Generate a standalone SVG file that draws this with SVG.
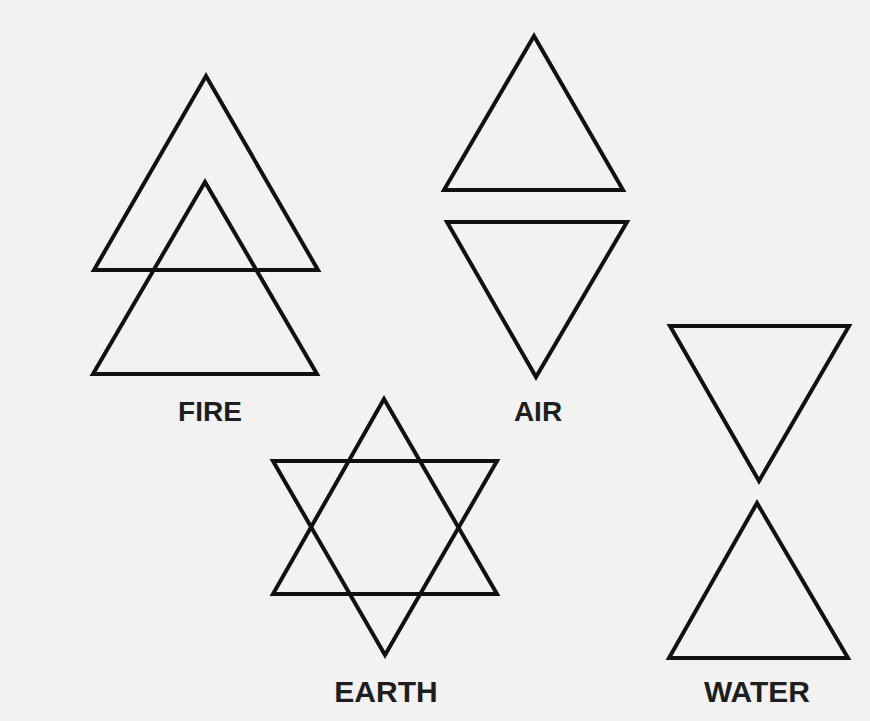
<svg xmlns="http://www.w3.org/2000/svg" width="870" height="721" viewBox="0 0 870 721">
<style>
.tri{fill:none;stroke:#111;stroke-width:4;stroke-linejoin:miter}
.lbl{font-family:"Liberation Sans",Arial,sans-serif;fill:#1e1e1e;text-anchor:middle;font-weight:bold}
</style>
<rect width="870" height="721" fill="#f2f2f2"/>
<g id="fire">
<polygon class="tri" points="206,76 94,270 318,270"/>
<polygon class="tri" points="205,182 93,374 317,374"/>
<text class="lbl" x="210" y="421" font-size="28">FIRE</text>
</g>
<g id="air">
<polygon class="tri" points="534,36 444,190 623,190"/>
<polygon class="tri" points="447,222 627,222 536,377"/>
<text class="lbl" x="538" y="421" font-size="28">AIR</text>
</g>
<g id="earth">
<polygon class="tri" points="384,399 273,594 497,594"/>
<polygon class="tri" points="273,461 497,461 385,655"/>
<text class="lbl" x="386" y="702" font-size="30">EARTH</text>
</g>
<g id="water">
<polygon class="tri" points="670,326 849,326 759,481"/>
<polygon class="tri" points="757,503 669,658 848,658"/>
<text class="lbl" x="757" y="702" font-size="30">WATER</text>
</g>
<g id="connectors"/>
</svg>
